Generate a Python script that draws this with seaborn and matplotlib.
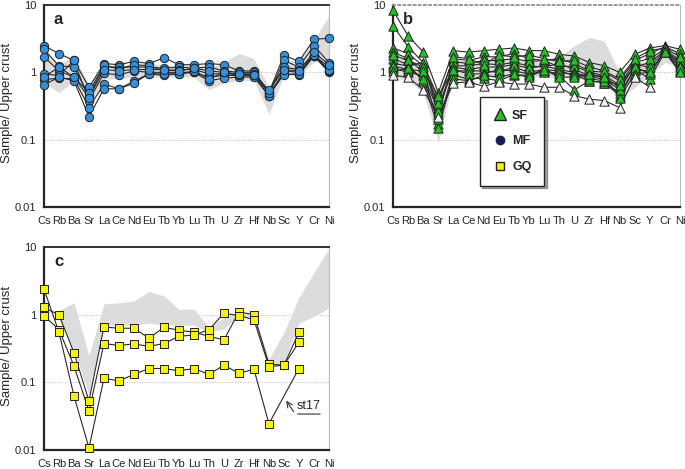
import numpy as np
import pandas as pd
import matplotlib
matplotlib.use('Agg')
import matplotlib.pyplot as plt
import seaborn as sns

elements = ['Cs', 'Rb', 'Ba', 'Sr', 'La', 'Ce', 'Nd', 'Eu', 'Tb', 'Yb', 'Lu',
            'Th', 'U', 'Zr', 'Hf', 'Nb', 'Sc', 'Y', 'Cr', 'Ni']
nan = np.nan

# panel a - MF samples (blue circles)
mf = {
    'a1': [2.5, 1.9, 1.5, 0.6, 1.35, 1.3, 1.45, 1.35, 1.65, 1.3, 1.3, 1.35, 1.3, 1.05, 1.05, 0.5, 1.8, 1.45, 3.1, 3.2],
    'a2': [2.2, 1.25, 1.2, 0.45, 1.2, 1.2, 1.2, 1.2, 1.15, 1.2, 1.15, 1.2, 1.05, 1.0, 1.0, 0.48, 1.5, 1.2, 2.5, 1.4],
    'a3': [1.7, 1.05, 0.85, 0.5, 1.3, 1.1, 1.3, 1.25, 1.05, 1.1, 1.1, 0.95, 0.95, 0.95, 0.95, 0.52, 1.2, 1.1, 1.8, 1.2],
    'a4': [0.95, 0.9, 1.5, 0.38, 0.97, 0.92, 1.05, 1.0, 1.0, 1.0, 1.0, 0.85, 0.9, 0.9, 0.88, 0.45, 1.05, 1.0, 1.75, 1.0],
    'a5': [0.78, 0.82, 0.8, 0.3, 0.67, 0.57, 0.74, 0.95, 0.9, 0.95, 1.0, 0.75, 0.82, 0.85, 0.85, 0.45, 0.95, 0.92, 1.75, 1.05],
    'a6': [0.65, 0.85, 0.75, 0.22, 0.57, 0.57, 0.69, 0.95, 0.95, 0.95, 1.05, 0.8, 1.0, 0.9, 0.9, 0.5, 0.92, 0.95, 1.8, 1.1],
    'a7': [0.85, 1.2, 0.85, 0.42, 1.1, 1.05, 1.1, 1.1, 1.1, 1.05, 1.15, 1.05, 1.0, 0.95, 0.92, 0.55, 1.1, 1.05, 2.0, 1.3],
}
env_a_lo = [0.7, 0.5, 0.75, 0.3, 0.8, 0.8, 0.85, 0.85, 0.85, 0.85, 0.85, 0.55, 0.7, 0.75, 0.75, 0.24, 0.9, 0.9, 1.4, 1.5]
env_a_hi = [2.0, 1.3, 1.75, 0.65, 1.3, 1.25, 1.35, 1.35, 1.3, 1.25, 1.35, 1.2, 1.4, 1.9, 1.6, 0.6, 1.5, 1.5, 3.0, 7.0]

# panel b - SF samples (green triangles), one pale sample (white triangles)
sf = {
    'b1': [8.3, 3.5, 2.0, 0.5, 2.1, 2.0, 2.1, 2.2, 2.3, 2.1, 2.1, 1.85, 1.75, 1.4, 1.25, 1.0, 1.85, 2.3, 2.5, 2.2],
    'b2': [4.9, 2.4, 1.4, 0.4, 1.6, 1.5, 1.7, 1.7, 1.9, 1.6, 1.5, 1.6, 1.35, 1.05, 1.0, 0.75, 1.5, 1.9, 2.4, 1.9],
    'b3': [2.3, 1.9, 1.25, 0.3, 1.25, 1.25, 1.35, 1.3, 1.4, 1.25, 1.2, 1.35, 1.1, 0.9, 0.85, 0.6, 1.2, 1.4, 2.1, 1.4],
    'b4': [2.0, 1.6, 1.0, 0.17, 1.05, 1.05, 1.05, 1.0, 1.2, 1.0, 1.1, 1.05, 0.9, 0.75, 0.7, 0.45, 1.1, 1.05, 2.0, 1.1],
    'b5': [1.6, 1.3, 0.75, 0.15, 0.9, 0.8, 0.82, 0.75, 0.92, 0.9, 1.1, 0.9, 0.55, 0.75, 0.7, 0.5, 1.1, 0.8, 2.0, 1.05],
    'b6': [1.35, 1.25, 1.4, 0.24, 1.45, 1.35, 1.5, 1.5, 1.6, 1.45, 1.5, 1.2, 1.25, 1.0, 0.9, 0.65, 1.4, 1.6, 2.2, 1.5],
    'b7': [1.15, 1.0, 0.9, 0.27, 1.2, 1.1, 1.2, 1.2, 1.3, 1.15, 1.25, 1.1, 1.0, 0.85, 0.8, 0.55, 1.3, 1.2, 2.1, 1.3],
    'b8': [1.8, 1.5, 1.2, 0.35, 1.7, 1.6, 1.3, 1.8, 1.7, 1.8, 1.6, 1.45, 1.5, 1.2, 1.05, 0.8, 1.6, 2.1, 2.3, 1.7],
    'b9': [1.25, 1.1, 1.05, 0.45, 1.1, 0.95, 0.95, 1.1, 1.05, 0.95, 1.0, 0.98, 0.95, 0.8, 0.75, 0.65, 1.2, 0.95, 2.05, 1.2],
    'b10': [1.05, 1.15, 0.8, 0.2, 0.8, 0.75, 0.9, 0.85, 0.95, 0.85, 1.1, 0.85, 0.85, 0.95, 0.85, 0.42, 0.95, 1.0, 2.0, 1.0],
}
sf_pale = [0.9, 0.85, 0.55, 0.22, 0.7, 0.72, 0.62, 0.72, 0.67, 0.67, 0.6, 0.6, 0.45, 0.4, 0.38, 0.3, 0.85, 0.6, nan, nan]
env_b_lo = [0.85, 0.75, 0.5, 0.09, 0.8, 0.8, 0.85, 0.85, 0.85, 0.85, 0.85, 0.85, 0.8, 0.8, 0.8, 0.4, 0.6, 0.9, 1.4, 1.2]
env_b_hi = [2.0, 1.6, 1.3, 0.5, 1.5, 1.5, 1.5, 1.6, 1.6, 1.5, 1.5, 1.7, 2.5, 3.3, 2.9, 1.0, 1.4, 1.5, 2.5, 2.0]

# panel c - GQ samples (yellow squares)
gq = {
    'c1': [1.28, 0.99, 0.276, 0.053, 0.66, 0.63, 0.63, 0.45, 0.65, 0.59, 0.55, 0.48, 0.425, 1.1, 1.0, 0.185, 0.18, 0.39, nan, nan],
    'c2': [0.97, 0.6, 0.175, 0.0375, 0.375, 0.35, 0.37, 0.34, 0.375, 0.48, 0.5, 0.6, 1.05, 0.97, 0.84, 0.17, 0.18, 0.55, nan, nan],
    'st17': [2.4, 0.55, 0.063, 0.0107, 0.115, 0.105, 0.131, 0.16, 0.16, 0.148, 0.16, 0.131, 0.179, 0.136, 0.156, 0.0245, nan, 0.16, nan, nan],
}
env_c_lo = [nan, 0.9, 0.3, 0.065, 0.7, 0.7, 0.7, 0.75, 0.7, 0.7, 0.7, 0.55, 0.62, 0.95, 0.9, 0.18, 0.2, 0.75, 0.95, 1.25]
env_c_hi = [nan, 1.15, 1.5, 0.25, 1.45, 1.5, 1.6, 2.2, 1.9, 1.2, 1.2, 0.65, 0.9, 1.1, 1.0, 0.22, 0.55, 1.8, 4.2, 9.5]


def long_form(groups):
    rows = []
    for name, vals in groups.items():
        for i, v in enumerate(vals):
            rows.append({'sample': name, 'pos': i, 'value': v})
    return pd.DataFrame(rows).dropna()


def style_axis(ax, label, top_style='-'):
    ax.set_yscale('log')
    ax.set_ylim(0.01, 10)
    ax.set_xlim(0, len(elements) - 1)
    ax.set_xticks(range(len(elements)))
    ax.set_xticklabels(elements, fontsize=8)
    ax.set_yticks([0.01, 0.1, 1, 10])
    ax.set_yticklabels(['0.01', '0.1', '1', '10'], fontsize=8)
    ax.minorticks_off()
    ax.tick_params(axis='both', length=3.5, width=0.9, pad=2, color='#222222')
    ax.tick_params(axis='x', pad=3)
    ax.set_xlabel('')
    ax.set_ylabel('Sample/ Upper crust', fontsize=9.5)
    ax.yaxis.set_label_coords(-0.107, 0.515)
    for v in [0.1, 1]:
        ax.axhline(v, color='#bbbbbb', lw=0.7, ls=':', zorder=0)
    ax.spines['left'].set_linewidth(1.6)
    ax.spines['bottom'].set_linewidth(1.6)
    ax.spines['top'].set_linewidth(1.4)
    ax.spines['top'].set_linestyle(top_style)
    ax.spines['top'].set_color('#333333' if top_style == '-' else '#999999')
    ax.spines['right'].set_color('#bbbbbb')
    ax.spines['right'].set_linewidth(0.8)
    ax.text(0.035, 0.965, label, transform=ax.transAxes, fontsize=12,
            fontweight='bold', ha='left', va='top')


def draw(ax, groups, env_lo, env_hi, marker, color, size):
    ax.fill_between(range(len(elements)), env_lo, env_hi, color='#dcdcdc',
                    lw=0, zorder=1)
    df = long_form(groups)
    sns.lineplot(data=df, x='pos', y='value', units='sample', estimator=None,
                 color='#2a2a2a', lw=0.8, ax=ax, zorder=2, legend=False)
    sns.scatterplot(data=df, x='pos', y='value', marker=marker, color=color,
                    edgecolor='#222222', linewidth=0.7, s=size, ax=ax,
                    zorder=3, clip_on=False, legend=False)


sns.set_style('white')
plt.rcParams['font.family'] = ['Liberation Sans', 'DejaVu Sans']

fig = plt.figure(figsize=(6.85, 4.69), dpi=100)
ax_a = fig.add_axes([0.0642, 0.5586, 0.416, 0.4307])
ax_b = fig.add_axes([0.5737, 0.5586, 0.419, 0.4307])
ax_c = fig.add_axes([0.0642, 0.0405, 0.416, 0.4328])

blue = '#3590dc'
green = '#22c422'
yellow = '#f4f400'

draw(ax_a, mf, env_a_lo, env_a_hi, 'o', blue, 36)
style_axis(ax_a, 'a')

draw(ax_b, sf, env_b_lo, env_b_hi, '^', green, 45)
pale = long_form({'p': sf_pale})
sns.lineplot(data=pale, x='pos', y='value', color='#2a2a2a', lw=0.8,
             ax=ax_b, zorder=2, legend=False)
sns.scatterplot(data=pale, x='pos', y='value', marker='^', color='#f2f2f2',
                edgecolor='#222222', linewidth=0.7, s=45, ax=ax_b, zorder=3,
                clip_on=False, legend=False)
style_axis(ax_b, 'b', top_style=':')

h_sf = plt.Line2D([], [], marker='^', color='none', markerfacecolor=green,
                  markeredgecolor='#222222', markersize=8, label='SF')
h_mf = plt.Line2D([], [], marker='o', color='none', markerfacecolor='#1c1c5a',
                  markeredgecolor='#1c1c5a', markersize=6, label='MF')
h_gq = plt.Line2D([], [], marker='s', color='none', markerfacecolor=yellow,
                  markeredgecolor='#222222', markersize=6, label='GQ')
leg = ax_b.legend(handles=[h_sf, h_mf, h_gq], loc='lower left',
                  bbox_to_anchor=(0.28, 0.075), frameon=True, fancybox=False,
                  shadow=True, edgecolor='#222222', labelspacing=1.1,
                  borderpad=1.0, handletextpad=0.4, handlelength=1.2,
                  prop={'weight': 'bold', 'size': 9})
leg.get_frame().set_linewidth(1.0)

draw(ax_c, gq, env_c_lo, env_c_hi, 's', yellow, 36)
style_axis(ax_c, 'c')
ax_c.annotate('', xy=(16.05, 0.058), xytext=(16.75, 0.034),
              arrowprops=dict(arrowstyle='->', color='#333333', lw=0.8))
ax_c.annotate('', xy=(16.73, 0.034), xytext=(18.6, 0.034),
              arrowprops=dict(arrowstyle='-', color='#333333', lw=0.8))
ax_c.text(17.65, 0.037, 'st17', fontsize=9, ha='center', va='bottom')

fig.savefig('out.png', dpi=100)
